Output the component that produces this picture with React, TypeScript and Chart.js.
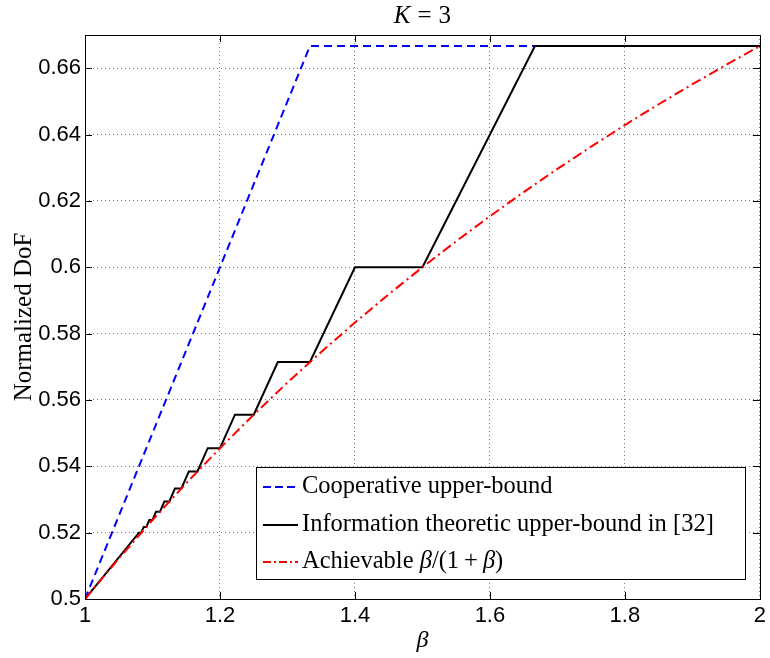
import React, { useEffect, useRef } from "react";
import { Chart, registerables } from "chart.js";
Chart.register(...registerables);

const xTicks = [1, 1.2, 1.4, 1.6, 1.8, 2];
const yTicks = [0.5, 0.52, 0.54, 0.56, 0.58, 0.6, 0.62, 0.64, 0.66];

const coopX = [1, 1.333333, 2];
const coopY = [0.5, 0.666667, 0.666667];

const infoX = [1, 1.08, 1.083333, 1.086957, 1.090909, 1.095238, 1.1, 1.105263, 1.111111, 1.117647, 1.125, 1.133333, 1.142857, 1.153846, 1.166667, 1.181818, 1.2, 1.222222, 1.25, 1.285714, 1.333333, 1.4, 1.5, 1.666667, 2];
const infoY = [0.5, 0.52, 0.52, 0.521739, 0.521739, 0.52381, 0.52381, 0.526316, 0.526316, 0.529412, 0.529412, 0.533333, 0.533333, 0.538462, 0.538462, 0.545455, 0.545455, 0.555556, 0.555556, 0.571429, 0.571429, 0.6, 0.6, 0.666667, 0.666667];

const achX = [1, 1.05, 1.1, 1.15, 1.2, 1.25, 1.3, 1.35, 1.4, 1.45, 1.5, 1.55, 1.6, 1.65, 1.7, 1.75, 1.8, 1.85, 1.9, 1.95, 2];
const achY = [0.5, 0.512195, 0.52381, 0.534884, 0.545455, 0.555556, 0.565217, 0.574468, 0.583333, 0.591837, 0.6, 0.607843, 0.615385, 0.622642, 0.62963, 0.636364, 0.642857, 0.649123, 0.655172, 0.661017, 0.666667];

const legendLabels = ["Cooperative upper-bound", "Information theoretic upper-bound in [32]"];

const SERIF = '"Liberation Serif", "DejaVu Serif", serif';
const SANS = '"Liberation Sans", Arial, sans-serif';

const toPts = (xs: number[], ys: number[]) => xs.map((x, i) => ({ x, y: ys[i] }));

type Part = [string, boolean, number?];

function drawRich(ctx: CanvasRenderingContext2D, parts: Part[], x: number, y: number, size: number, center = false) {
  let total = 0;
  for (const [t, it, g] of parts) {
    ctx.font = `${it ? "italic " : ""}${size}px ${SERIF}`;
    total += ctx.measureText(t).width + (g || 0);
  }
  let cx = center ? x - total / 2 : x;
  for (const [t, it, g] of parts) {
    ctx.font = `${it ? "italic " : ""}${size}px ${SERIF}`;
    ctx.fillText(t, cx, y);
    cx += ctx.measureText(t).width + (g || 0);
  }
}

const overlay = {
  id: "overlay",
  afterDraw(chart: any) {
    const ctx: CanvasRenderingContext2D = chart.ctx;
    const { left, right, top, bottom } = chart.chartArea;
    const sx = chart.scales.x;
    const sy = chart.scales.y;
    ctx.save();
    ctx.strokeStyle = "#000";
    ctx.lineWidth = 1;
    ctx.setLineDash([]);
    ctx.strokeRect(Math.round(left) + 0.5, Math.round(top) + 0.5, Math.round(right - left), Math.round(bottom - top));
    const tl = 7;
    ctx.beginPath();
    for (const v of xTicks) {
      const px = Math.round(sx.getPixelForValue(v)) + 0.5;
      ctx.moveTo(px, bottom);
      ctx.lineTo(px, bottom - tl);
      ctx.moveTo(px, top);
      ctx.lineTo(px, top + tl);
    }
    for (const v of yTicks) {
      const py = Math.round(sy.getPixelForValue(v)) + 0.5;
      ctx.moveTo(left, py);
      ctx.lineTo(left + tl, py);
      ctx.moveTo(right, py);
      ctx.lineTo(right - tl, py);
    }
    ctx.stroke();

    ctx.fillStyle = "#000";
    ctx.textBaseline = "alphabetic";
    ctx.textAlign = "left";
    // title
    drawRich(ctx, [["K", true, 7], ["=", false, 7], ["3", false]], (left + right) / 2, 23, 25, true);
    // x label
    drawRich(ctx, [["β", true]], (left + right) / 2, 647, 24, true);
    // y label
    ctx.save();
    ctx.translate(31, 317);
    ctx.rotate(-Math.PI / 2);
    drawRich(ctx, [["Normalized DoF", false]], 0, 0, 25, true);
    ctx.restore();

    // legend
    const lx = 256, ly = 467, lw = 489, lh = 112;
    ctx.fillStyle = "#fff";
    ctx.fillRect(lx, ly, lw, lh);
    ctx.strokeStyle = "#000";
    ctx.lineWidth = 1;
    ctx.strokeRect(lx + 0.5, ly + 0.5, lw, lh);
    const rows = [487, 525, 562];
    const styles: [string, number[]][] = [["#0000ff", [8, 4]], ["#000000", []], ["#ff0000", [8, 3, 2, 3]]];
    rows.forEach((ry, i) => {
      ctx.strokeStyle = styles[i][0];
      ctx.lineWidth = 2;
      ctx.setLineDash(styles[i][1]);
      ctx.beginPath();
      ctx.moveTo(263, ry);
      ctx.lineTo(298, ry);
      ctx.stroke();
    });
    ctx.setLineDash([]);
    ctx.fillStyle = "#000";
    ctx.textBaseline = "middle";
    drawRich(ctx, [[legendLabels[0], false]], 302, rows[0], 24.5);
    drawRich(ctx, [[legendLabels[1], false]], 302, rows[1], 24.5);
    drawRich(ctx, [["Achievable ", false], ["β", true], ["/(1", false, 5], ["+", false, 5], ["β", true], [")", false]], 302, rows[2], 24.5);
    ctx.restore();
  },
};

export default function App() {
  const ref = useRef<HTMLCanvasElement>(null);
  useEffect(() => {
    if (!ref.current) return;
    const chart = new Chart(ref.current, {
      type: "line",
      data: {
        datasets: [
          {
            label: "Achievable",
            data: toPts(achX, achY),
            borderColor: "#ff0000",
            borderWidth: 2,
            borderDash: [10, 4, 2, 4],
            pointRadius: 0,
            fill: false,
            tension: 0,
          },
          {
            label: legendLabels[1],
            data: toPts(infoX, infoY),
            borderColor: "#000000",
            borderWidth: 2,
            pointRadius: 0,
            fill: false,
            tension: 0,
          },
          {
            label: legendLabels[0],
            data: toPts(coopX, coopY),
            borderColor: "#0000ff",
            borderWidth: 2,
            borderDash: [8, 5],
            pointRadius: 0,
            fill: false,
            tension: 0,
          },
        ],
      },
      options: {
        responsive: false,
        animation: false,
        layout: { padding: { top: 35, right: 8, left: 0, bottom: 0 } },
        plugins: { legend: { display: false }, title: { display: false }, tooltip: { enabled: false } },
        scales: {
          x: {
            type: "linear",
            min: 1,
            max: 2,
            afterBuildTicks: (s: any) => { s.ticks = xTicks.map((v) => ({ value: v })); },
            afterFit: (s: any) => { s.height = 59; },
            ticks: { color: "#000", font: { family: SANS, size: 22 }, padding: 4, maxRotation: 0, callback: (v: any) => String(v) },
            grid: { color: "#777", lineWidth: 1, drawTicks: false },
            border: { display: false, dash: [1, 3] },
          },
          y: {
            type: "linear",
            min: 0.5,
            max: 0.67,
            afterBuildTicks: (s: any) => { s.ticks = yTicks.map((v) => ({ value: v })); },
            afterFit: (s: any) => { s.width = 85; },
            ticks: { color: "#000", font: { family: SANS, size: 22 }, padding: 4, callback: (v: any) => String(Math.round(v * 100) / 100) },
            grid: { color: "#777", lineWidth: 1, drawTicks: false },
            border: { display: false, dash: [1, 3] },
          },
        },
      },
      plugins: [overlay],
    } as any);
    return () => chart.destroy();
  }, []);
  return (
    <div style={{ position: "fixed", left: 0, top: 0, width: 770, height: 658, background: "#fff" }}>
      <canvas ref={ref} width={770} height={658} />
    </div>
  );
}
